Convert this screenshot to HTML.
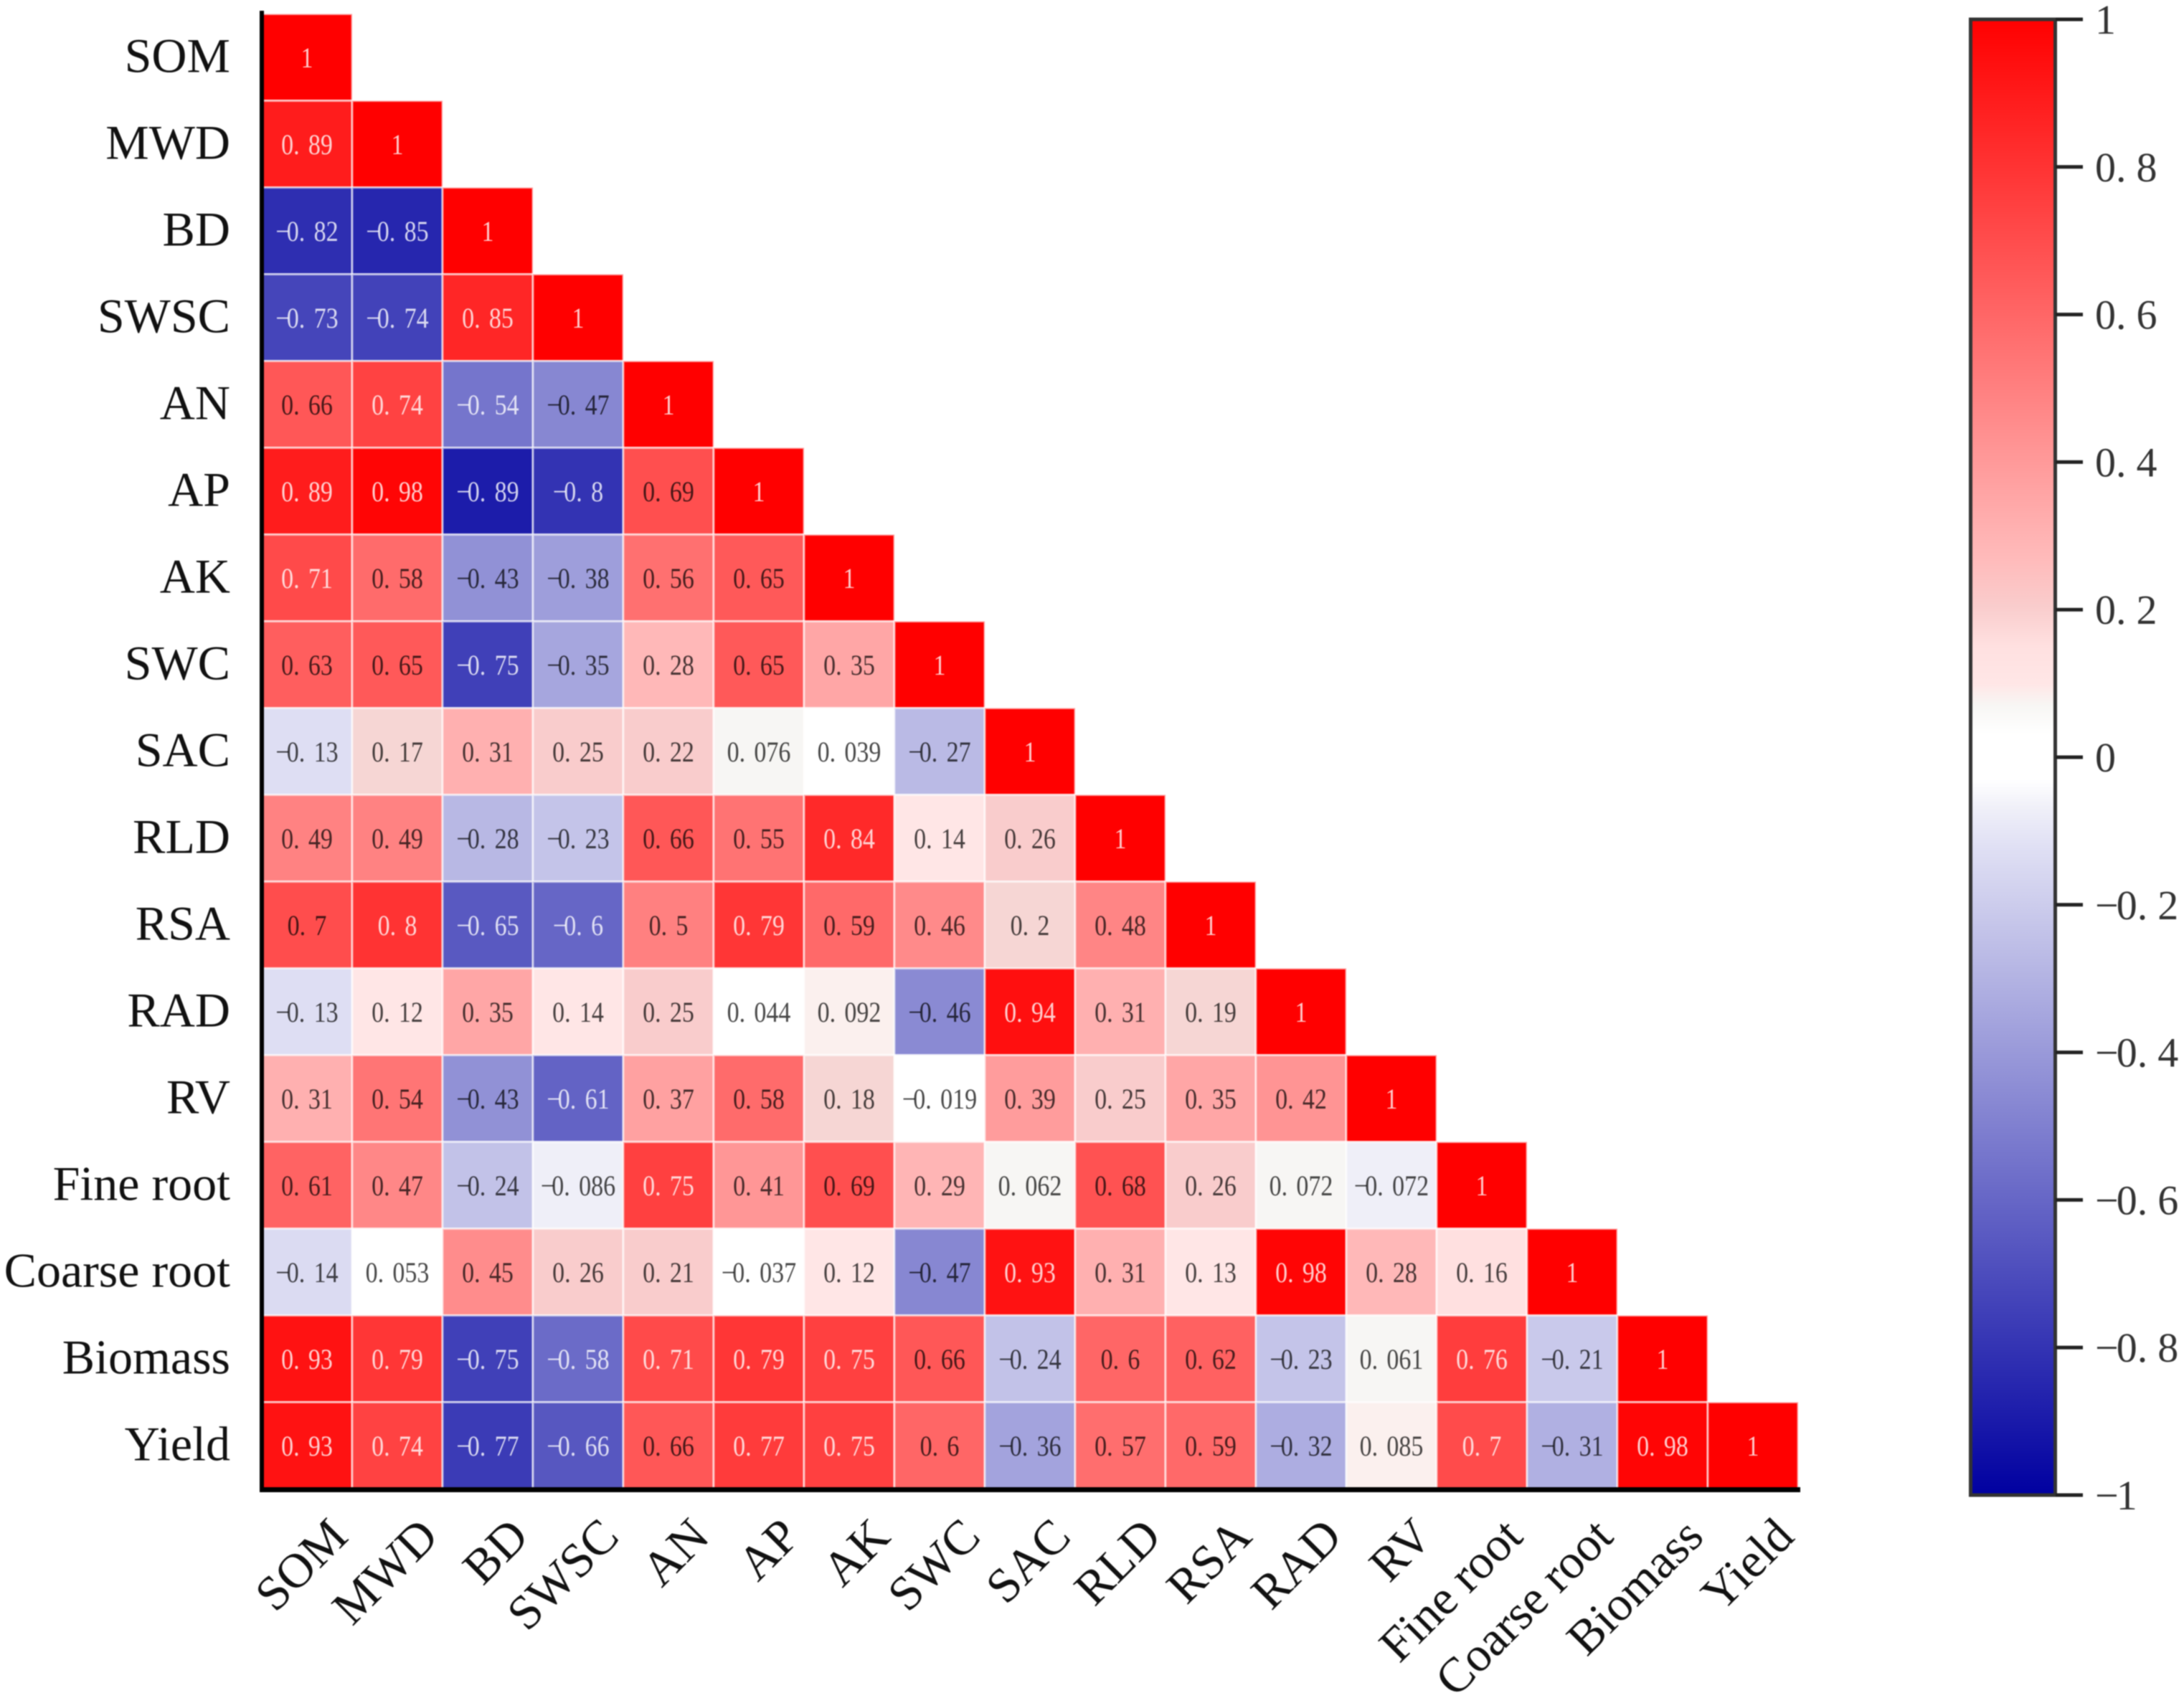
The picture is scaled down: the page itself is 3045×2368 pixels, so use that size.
<!DOCTYPE html>
<html lang="en">
<head>
<meta charset="utf-8">
<title>Correlation heatmap</title>
<style>
html,body{margin:0;padding:0;background:#fff;width:3045px;height:2368px;overflow:hidden}
svg{display:block;filter:blur(0.7px)}
text{font-family:"Liberation Serif","Noto Serif CJK SC",serif}
</style>
</head>
<body>
<svg id="chart" xmlns="http://www.w3.org/2000/svg" width="3045" height="2368" viewBox="0 0 3045 2368">
  <defs>
    <linearGradient id="cbGrad" x1="0" y1="0" x2="0" y2="1"></linearGradient>
  </defs>
  <rect x="0" y="0" width="3045" height="2368" fill="#fff"></rect>
  <g id="cells"></g>
  <g id="rowLabels"></g>
  <g id="colLabels"></g>
  <rect x="362" y="15" width="6" height="2066" fill="#000"></rect>
  <rect x="362" y="2074" width="2148" height="7" fill="#000"></rect>
  <g id="colorbar"></g>
</svg>
<script>
const categories = ["SOM","MWD","BD","SWSC","AN","AP","AK","SWC","SAC","RLD","RSA","RAD","RV","Fine root","Coarse root","Biomass","Yield"];
const rowSOM = [1];
const rowMWD = [0.89,1];
const rowBD = [-0.82,-0.85,1];
const rowSWSC = [-0.73,-0.74,0.85,1];
const rowAN = [0.66,0.74,-0.54,-0.47,1];
const rowAP = [0.89,0.98,-0.89,-0.8,0.69,1];
const rowAK = [0.71,0.58,-0.43,-0.38,0.56,0.65,1];
const rowSWC = [0.63,0.65,-0.75,-0.35,0.28,0.65,0.35,1];
const rowSAC = [-0.13,0.17,0.31,0.25,0.22,0.076,0.039,-0.27,1];
const rowRLD = [0.49,0.49,-0.28,-0.23,0.66,0.55,0.84,0.14,0.26,1];
const rowRSA = [0.697,0.8,-0.65,-0.6,0.5,0.79,0.59,0.46,0.2,0.48,1];
const rowRAD = [-0.13,0.12,0.35,0.14,0.25,0.044,0.092,-0.46,0.94,0.31,0.19,1];
const rowRV = [0.31,0.54,-0.43,-0.61,0.37,0.58,0.18,-0.019,0.39,0.25,0.35,0.42,1];
const rowFineRoot = [0.61,0.47,-0.24,-0.086,0.75,0.41,0.69,0.29,0.062,0.68,0.26,0.072,-0.072,1];
const rowCoarseRoot = [-0.14,0.053,0.45,0.26,0.21,-0.037,0.12,-0.47,0.93,0.31,0.13,0.98,0.28,0.16,1];
const rowBiomass = [0.93,0.79,-0.75,-0.58,0.71,0.79,0.75,0.66,-0.24,0.6,0.62,-0.23,0.061,0.76,-0.21,1];
const rowYield = [0.93,0.74,-0.77,-0.66,0.66,0.77,0.75,0.6,-0.36,0.57,0.59,-0.32,0.085,0.704,-0.31,0.98,1];
const matrix = [rowSOM,rowMWD,rowBD,rowSWSC,rowAN,rowAP,rowAK,rowSWC,rowSAC,rowRLD,rowRSA,rowRAD,rowRV,rowFineRoot,rowCoarseRoot,rowBiomass,rowYield];
const colorbarTicks = [1,0.8,0.6,0.4,0.2,0,-0.2,-0.4,-0.6,-0.8,-1];
const colorbarStops = [1,0.6,0.3,0.27,0.205,0.15,0.1,0.07,0.03,-0.03,-0.07,-0.12,-0.2,-1];

const NS = "http://www.w3.org/2000/svg";
const gridLeft = 365, gridTop = 19.5, cellW = 126, cellH = 121;
const cbTop = 27, cbBottom = 2085;

function xPos(i){ return gridLeft + i * cellW; }
function yPos(i){ return gridTop + i * cellH; }
function cbY(v){ return cbBottom - (v + 1) / 2 * (cbBottom - cbTop); }
function color(v){
  const t = Math.min(1, Math.abs(v));
  if (t < 0.055) return "rgb(255,255,255)";
  if (v > 0) {
    if (t < 0.08) return "rgb(247,246,244)";
    if (t < 0.1) return "rgb(251,240,238)";
    if (t < 0.15) return "rgb(255,230,230)";
    if (t < 0.165) return "rgb(255,224,224)";
    if (t < 0.205) return "rgb(246,214,212)";
    if (t < 0.27) return "rgb(249,204,204)";
    const c = Math.round(255 * (1 - t));
    return "rgb(255," + c + "," + c + ")";
  }
  if (t < 0.1) return "rgb(239,239,248)";
  const c = Math.round(255 * (1 - t));
  const b = Math.round(255 - 95 * t);
  return "rgb(" + c + "," + c + "," + b + ")";
}
function labelColor(v){
  const light = v >= 0.7 || v <= -0.5;
  return light ? "rgba(255,255,255,0.8)" : "rgba(0,0,0,0.72)";
}
function fmt(v){
  return String(Number(v.toPrecision(2))).replace("-", "\u2212");
}
function spacing(str, dotGap, minusGap){
  const out = [];
  for (let i = 0; i < str.length; i++) {
    let d = 0;
    if (i > 0 && str[i - 1] === ".") d = dotGap;
    if (i > 0 && str[i - 1] === "\u2212") d = minusGap;
    out.push(d);
  }
  return out.join(" ");
}
function make(tag, attrs){
  const el = document.createElementNS(NS, tag);
  for (const k in attrs) el.setAttribute(k, attrs[k]);
  return el;
}

const cellsG = document.getElementById("cells");
matrix.forEach(function(row, r){
  row.forEach(function(v, c){
    const rect = make("rect", {x:xPos(c), y:yPos(r), width:cellW, height:cellH, fill:color(v), stroke:"rgba(255,255,255,0.6)", "stroke-width":3});
    
    
    cellsG.appendChild(rect);
  });
});
matrix.forEach(function(row, r){
  row.forEach(function(v, c){
    const s = fmt(v);
    const tx = xPos(c) + cellW / 2;
    const ty = yPos(r) + cellH / 2 + 14;
    const t = make("text", {x:0, y:0, transform:"translate(" + tx + " " + ty + ") scale(0.85 1)", "text-anchor":"middle", "font-size":40, fill:labelColor(v), dx:spacing(s, 14.5, -4.5)});
    
    
    t.textContent = s;
    cellsG.appendChild(t);
  });
});

const rowG = document.getElementById("rowLabels");
const colG = document.getElementById("colLabels");
categories.forEach(function(name, i){
  const rl = make("text", {x:321, y:yPos(i) + 81, "text-anchor":"end", "font-size":68, fill:"#111"});
  
  
  rl.textContent = name;
  rowG.appendChild(rl);

  const ax = xPos(i) + cellW / 2 + 60, ay = 2146;
  const cl = make("text", {x:ax, y:ay, "text-anchor":"end", "font-size":68, fill:"#111", transform:"rotate(-45 " + ax + " " + ay + ")"});
  
  
  cl.textContent = name;
  colG.appendChild(cl);
});

const grad = document.getElementById("cbGrad");
colorbarStops.forEach(function(v){
  grad.appendChild(make("stop", {offset:(cbY(v) - cbTop) / (cbBottom - cbTop), "stop-color":color(v)}));
});
const cb = document.getElementById("colorbar");
const bar = make("rect", {x:2747.5, y:cbTop, width:118, height:cbBottom - cbTop, fill:"url(#cbGrad)", stroke:"#333", "stroke-width":5});


cb.appendChild(bar);
colorbarTicks.forEach(function(v){
  const y = cbY(v);
  const tick = make("line", {x1:2866, x2:2904, y1:y, y2:y, stroke:"#222", "stroke-width":5});
  
  
  cb.appendChild(tick);
  const s = String(v).replace("-", "\u2212");
  const lab = make("text", {x:2921, y:y + 20, "font-size":58, fill:"#333", dx:spacing(s, 14, -3)});
  
  
  lab.textContent = s;
  cb.appendChild(lab);
});
</script>
</body>
</html>
